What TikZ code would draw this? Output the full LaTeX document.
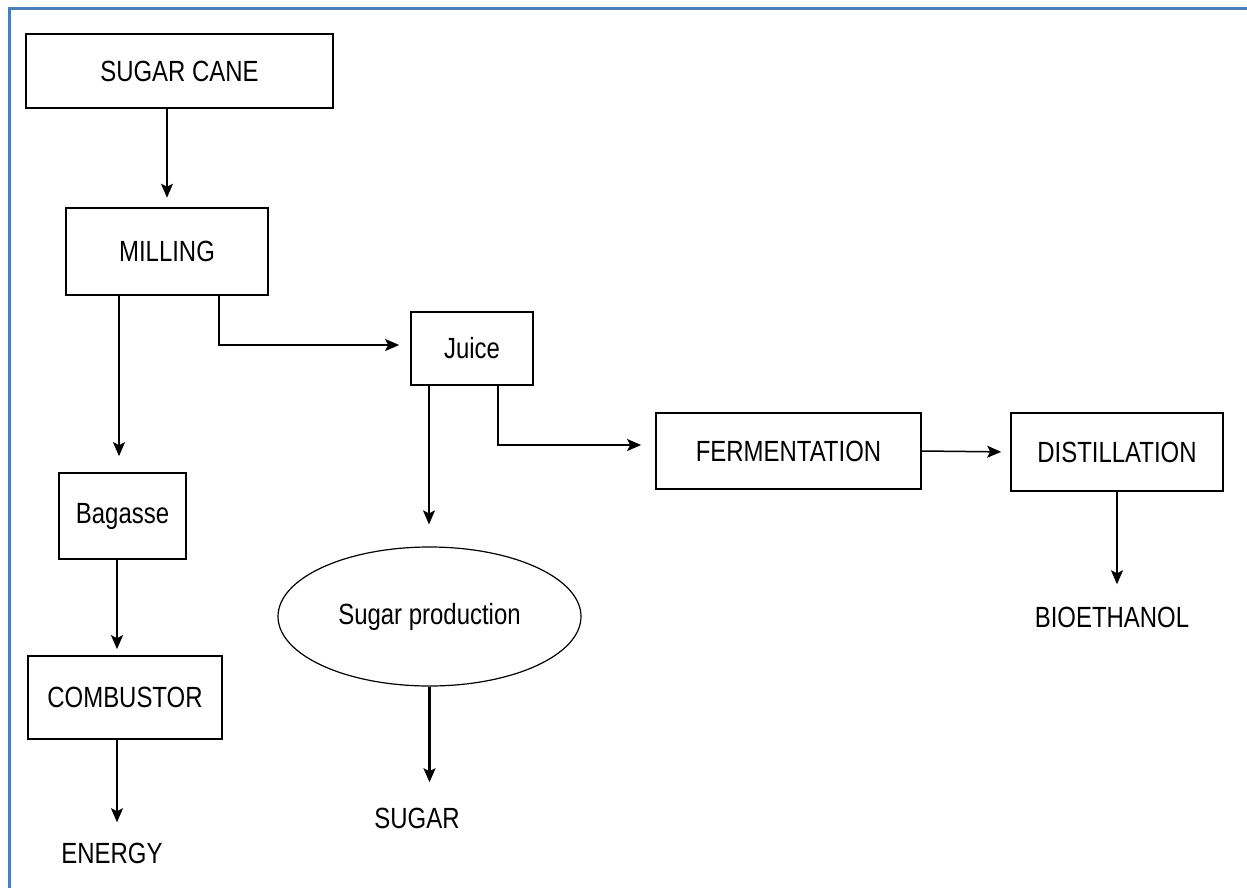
\documentclass[tikz,border=0pt]{standalone}
\usepackage{fontspec}
\setmainfont{Liberation Sans}[FakeStretch=0.82]
\usetikzlibrary{arrows.meta,shapes.geometric}
\definecolor{pageblue}{RGB}{74,126,192}
\tikzset{>={Stealth[length=7pt,width=6pt,inset=1.5pt]},
  every node/.style={font=\fontsize{14.6}{17}\selectfont},
  box/.style={draw,line width=0.85pt,inner sep=0pt},
  oval/.style={draw,ellipse,line width=0.6pt,inner sep=0pt},
  outtext/.style={inner sep=0pt},
  flow/.style={->,line width=0.75pt}}

\begin{document}
\begin{tikzpicture}[x=0.5pt,y=-0.5pt]
    \useasboundingbox (0,0) rectangle (1247,888);
    \draw[pageblue,line width=1.5pt] (9,888) -- (9,9) -- (1247,9);

    \node[box,minimum width=153.5pt,minimum height=37pt] (cane) at (179.5,71) {SUGAR CANE};
    \node[box,line width=1.3pt,minimum width=101pt,minimum height=43.5pt] (milling) at (167,251.5) {MILLING};
    \node[box,minimum width=61pt,minimum height=36.5pt] (juice) at (472,348.5) {Juice};
    \node[box,minimum width=63.5pt,minimum height=43pt] (bagasse) at (122.5,516) {Bagasse};
    \node[box,minimum width=97pt,minimum height=41.5pt] (combustor) at (125,697.5) {COMBUSTOR};
    \node[box,minimum width=132.5pt,minimum height=38pt] (ferm) at (788.5,451) {FERMENTATION};
    \node[box,minimum width=106pt,minimum height=39pt] (dist) at (1117,452) {DISTILLATION};
    \node[oval,minimum width=151.5pt,minimum height=69.5pt] (sugarprod) at (429.5,616.5) {Sugar production};
    \node[outtext] (energy) at (112,853) {ENERGY};
    \node[outtext] (sugar) at (417,818) {SUGAR};
    \node[outtext] (bio) at (1112,617) {BIOETHANOL};

    \draw[flow,shorten >=4.5pt] (milling.north |- cane.south) -- (milling.north);
    \draw[flow,shorten >=8pt] ([xshift=-24pt]milling.south) -- ([xshift=-24pt]milling.south |- bagasse.north);
    \draw[flow,shorten >=5.5pt] ([xshift=26pt]milling.south) |- ([yshift=1.75pt]juice.west);
    \draw[flow,shorten >=11pt] ([xshift=-0.25pt]sugarprod.north |- juice.south) -- ([xshift=-0.25pt]sugarprod.north);
    \draw[flow,shorten >=7pt] ([xshift=13pt]juice.south) |- ([yshift=3pt]ferm.west);
    \draw[flow,shorten >=4.5pt] (ferm.east) -- (dist.west);
    \draw[flow,shorten >=11pt] (dist.south) -- (dist.south |- bio.north);
    \draw[flow,shorten >=3pt] ([xshift=-2.75pt]bagasse.south) -- ([xshift=-2.75pt]bagasse.south |- combustor.north);
    \draw[flow,shorten >=10pt] ([xshift=-4pt]combustor.south) -- ([xshift=-4pt]combustor.south |- energy.north);
    \draw[flow,line width=1.2pt,shorten >=12.5pt] (sugarprod.south) -- (sugarprod.south |- sugar.north);
\end{tikzpicture}
\end{document}
